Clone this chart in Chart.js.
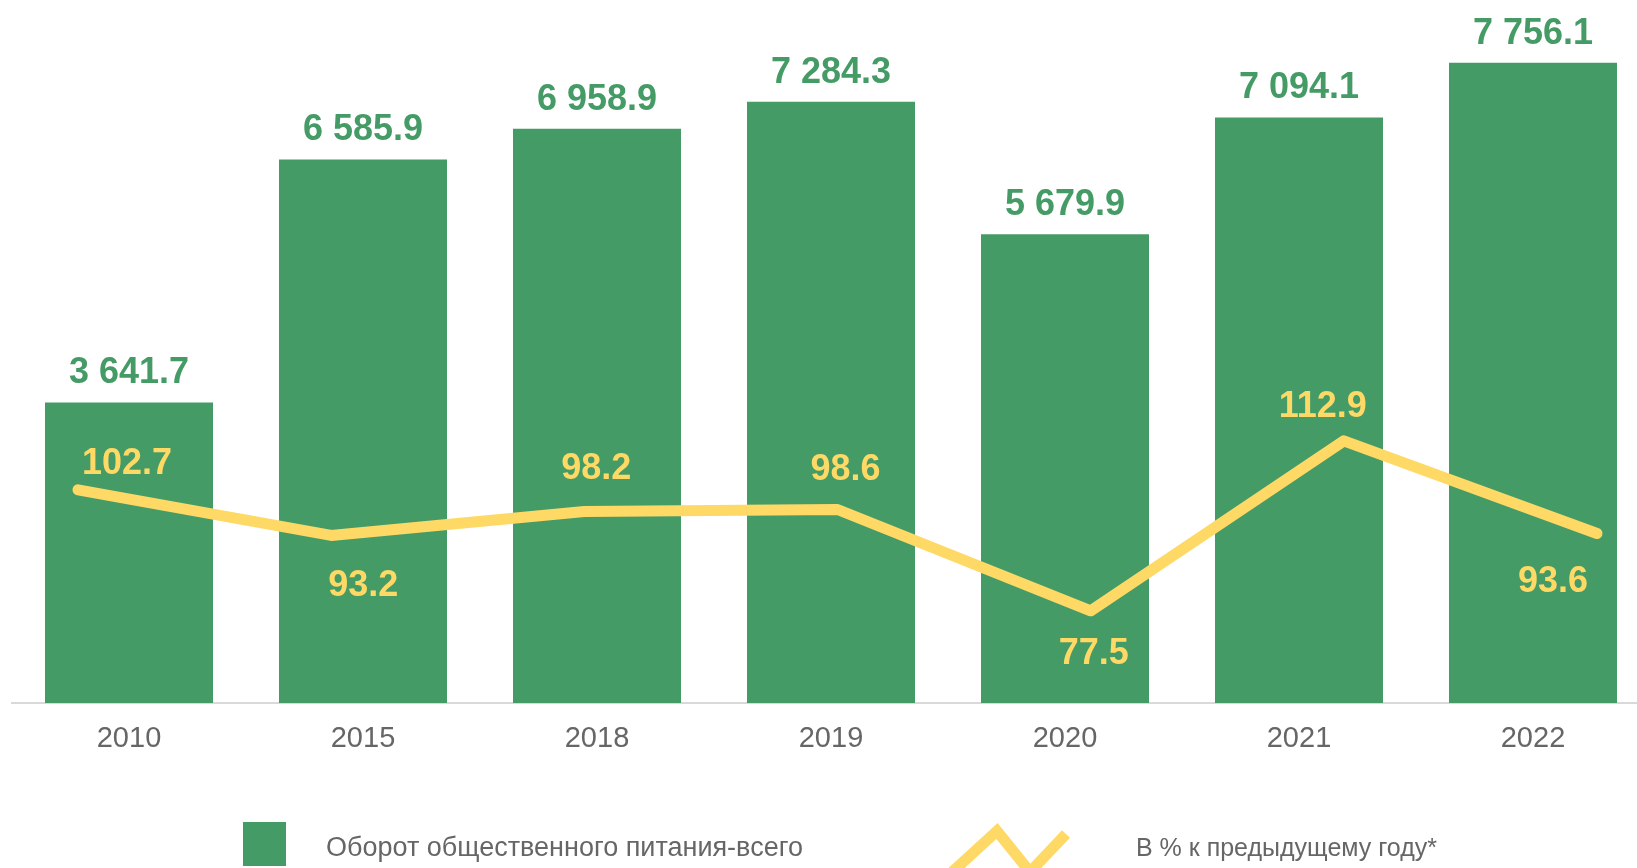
<!DOCTYPE html>
<html lang="ru">
<head>
<meta charset="utf-8">
<title>Оборот общественного питания</title>
<script src="https://cdn.jsdelivr.net/npm/chart.js@4/dist/chart.umd.min.js"></script>
<style>
    html, body { margin: 0; padding: 0; background: #fff; overflow: hidden; }
    #wrap { position: relative; width: 1650px; height: 868px; }
</style>
</head>
<body>
<div id="wrap"><canvas id="turnover-chart"></canvas></div>
<script>
// ================================================================
// Данные
// ================================================================
const years = ['2010', '2015', '2018', '2019', '2020', '2021', '2022'];
const turnover = [3641.7, 6585.9, 6958.9, 7284.3, 5679.9, 7094.1, 7756.1];
const pctPrevYear = [102.7, 93.2, 98.2, 98.6, 77.5, 112.9, 93.6];
const seriesNames = ['Оборот общественного питания-всего', 'В % к предыдущему году*'];

// ================================================================
// Оформление
// ================================================================
const GREEN = '#459B66';
const YELLOW = '#FFD966';
const GREY = '#666666';
const FONT = '"Liberation Sans", Arial, sans-serif';

// смещения подписей линии относительно точек (dx, dy)
const pctLabelShift = [[49, -29], [32, 48], [12, -45], [8, -43], [3, 40], [-21, -37], [-44, 45]];

function fmt(v) {
    const parts = v.toFixed(1).split('.');
    return parts[0].replace(/\B(?=(\d{3})+(?!\d))/g, ' ') + '.' + parts[1];
}

const labelsPlugin = {
    id: 'valueLabels',
    afterDatasetsDraw(chart) {
        const ctx = chart.ctx;
        ctx.save();
        ctx.font = 'bold 36px ' + FONT;
        ctx.textAlign = 'center';
        ctx.textBaseline = 'alphabetic';

        // подписи столбцов
        const barMeta = chart.getDatasetMeta(1);
        ctx.fillStyle = GREEN;
        barMeta.data.forEach((el, i) => {
            ctx.fillText(fmt(turnover[i]), el.x, el.y - 19);
        });

        // подписи линии
        const lineMeta = chart.getDatasetMeta(0);
        ctx.fillStyle = YELLOW;
        lineMeta.data.forEach((pt, i) => {
            const s = pctLabelShift[i];
            ctx.fillText(pctPrevYear[i].toFixed(1), pt.x + s[0], pt.y + s[1] + 13);
        });
        ctx.restore();
    },
    afterDraw(chart) {
        // легенда
        const ctx = chart.ctx;
        ctx.save();
        ctx.fillStyle = GREEN;
        ctx.fillRect(243, 822, 43, 44);

        ctx.strokeStyle = YELLOW;
        ctx.lineWidth = 11;
        ctx.lineJoin = 'miter';
        ctx.lineCap = 'butt';
        ctx.beginPath();
        ctx.moveTo(950, 874);
        ctx.lineTo(997, 831);
        ctx.lineTo(1030, 872);
        ctx.lineTo(1066, 834);
        ctx.stroke();

        ctx.fillStyle = GREY;
        ctx.textAlign = 'left';
        ctx.textBaseline = 'alphabetic';
        ctx.font = '27px ' + FONT;
        ctx.fillText(seriesNames[0], 326, 856);
        ctx.font = '25px ' + FONT;
        ctx.fillText(seriesNames[1], 1136, 856);
        ctx.restore();
    }
};

const ctx = document.getElementById('turnover-chart').getContext('2d');
const turnoverChart = new Chart(ctx, {
    type: 'bar',
    data: {
        labels: years,
        datasets: [
            {
                type: 'line',
                label: seriesNames[1],
                data: pctPrevYear.map((v, i) => ({ x: i, y: v })),
                xAxisID: 'xl',
                yAxisID: 'y2',
                borderColor: YELLOW,
                borderWidth: 11,
                borderCapStyle: 'round',
                borderJoinStyle: 'round',
                pointRadius: 0,
                tension: 0,
                order: 0
            },
            {
                type: 'bar',
                label: seriesNames[0],
                data: turnover,
                xAxisID: 'x',
                yAxisID: 'y',
                backgroundColor: GREEN,
                grouped: false,
                categoryPercentage: 1,
                barPercentage: 0.718,
                order: 1
            }
        ]
    },
    options: {
        responsive: true,
        maintainAspectRatio: false,
        animation: false,
        layout: { padding: { left: 12, right: 0, top: 3, bottom: 105 } },
        plugins: {
            legend: { display: false },
            tooltip: { enabled: false }
        },
        scales: {
            x: {
                type: 'category',
                offset: true,
                grid: { display: false, drawTicks: false },
                border: { color: '#D9D9D9', width: 2 },
                ticks: { color: GREY, padding: 19, font: { size: 29, family: FONT } },
                afterFit(scale) { scale.height = 60; }
            },
            xl: { type: 'linear', display: false, offset: false, grid: { offset: false }, min: -0.2607, max: 6.2093 },
            y: { display: false, min: 0, max: 8481 },
            y2: { display: false, min: 58.3, max: 204.1 }
        }
    },
    plugins: [labelsPlugin]
});
</script>
</body>
</html>
